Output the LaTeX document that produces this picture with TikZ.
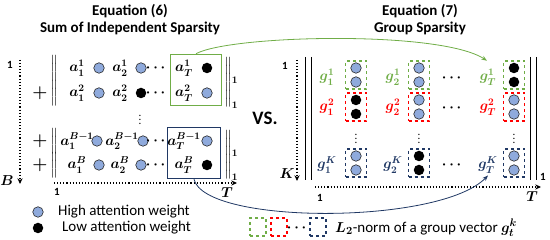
\documentclass[tikz,border=0pt]{standalone}
\usepackage{amsmath,amssymb}
\usepackage{fontspec}
\setmainfont{Carlito}
\usetikzlibrary{arrows.meta,positioning,calc}
\definecolor{hiB}{HTML}{8FAADC}
\definecolor{grG}{HTML}{70AD47}
\definecolor{grR}{HTML}{FF0000}
\definecolor{grN}{HTML}{203864}
\newcommand{\nrm}{\Big\|}

\begin{document}
\boldmath
\begin{tikzpicture}[x=1pt,y=-1pt,>={Stealth[length=2mm]},
    every node/.style={font=\fontsize{14}{16}\selectfont\boldmath,inner sep=0pt},
    ttl/.style={font=\bfseries\fontsize{15}{17}\selectfont,align=center},
    idx/.style={font=\bfseries\fontsize{11}{12}\selectfont},
    hi/.style={circle,draw=black!85,fill=hiB,line width=0.6pt,minimum size=10.5pt},
    lo/.style={circle,fill=black,minimum size=10.5pt},
    axis/.style={dotted,line width=1.1pt,-{Stealth[length=2mm,width=1.8mm]}},
    sel/.style={draw,line width=1.5pt,minimum width=51pt,minimum height=51pt},
    grp/.style={draw,dashed,line width=1.2pt,minimum width=21pt,minimum height=28pt},
    key/.style={draw,dashed,line width=1.2pt,minimum width=16pt,minimum height=18pt},
    txt/.style={font=\fontsize{15}{17}\selectfont\boldmath,anchor=west},
    pls/.style={font=\fontsize{17}{17}\selectfont\boldmath},
    vdt/.style={font=\fontsize{11}{11}\selectfont\boldmath}]
  \useasboundingbox (0,0) rectangle (550,240);
  % ---- LEFT: Equation (6) ----
  \node[ttl] (t6) at (130,20) {Equation (6)\\Sum of Independent Sparsity};
  \node[idx] (l1) at (10,65) {1};
  \node (lB) at (7,181) {$B$};
  \coordinate (vtop) at (20,60); \coordinate (vbot) at (20,184);
  \draw[axis] (vtop)--(vbot);
  % row 1
  \node (o1) at (54,68) {$\nrm$};
  \node (a11) at (77,68) {$a_1^1$}; \node[hi] (c11) at (99,68) {};
  \node (a21) at (120,68) {$a_2^1$}; \node[hi] (c21) at (141,68) {};
  \node (d1) at (157,68) {$\cdots$};
  \node (aT1) at (184,68) {$a_T^1$}; \node[lo] (cT1) at (207,68) {};
  \node[anchor=west] (e1) at (224,70) {$\nrm_1$};
  % row 2
  \node[pls] (p2) at (40,93) {$+$}; \node (o2) at (54,93) {$\nrm$};
  \node (a12) at (77,93) {$a_1^2$}; \node[hi] (c12) at (99,93) {};
  \node (a22) at (120,93) {$a_2^2$}; \node[lo] (c22) at (141,93) {};
  \node (d2) at (157,93) {$\cdots$};
  \node (aT2) at (184,93) {$a_T^2$}; \node[hi] (cT2) at (207,93) {};
  \node[anchor=west] (e2) at (224,95) {$\nrm_1$};
  \node[vdt] (vd) at (140,117) {$\vdots$};
  % row B-1
  \node[pls] (p4) at (40,141) {$+$}; \node (o4) at (54,141) {$\nrm$};
  \node (a14) at (77,141) {$a_1^{B-1}$}; \node[hi] (c14) at (97,141) {};
  \node (a24) at (122,141) {$a_2^{B-1}$}; \node[hi] (c24) at (143,141) {};
  \node (d4) at (157,141) {$\cdots$};
  \node (aT4) at (184,141) {$a_T^{B-1}$}; \node[hi] (cT4) at (207,141) {};
  \node[anchor=west] (e4) at (224,143) {$\nrm_1$};
  % row B
  \node[pls] (p5) at (40,165) {$+$}; \node (o5) at (54,165) {$\nrm$};
  \node (a15) at (77,165) {$a_1^B$}; \node[hi] (c15) at (99,165) {};
  \node (a25) at (120,165) {$a_2^B$}; \node[hi] (c25) at (141,165) {};
  \node (d5) at (157,165) {$\cdots$};
  \node (aT5) at (184,165) {$a_T^B$}; \node[lo] (cT5) at (207,165) {};
  \node[anchor=west] (e5) at (224,167) {$\nrm_1$};
  % selected columns
  \node[sel,grG] (gsel) at (196,80) {};
  \node[sel,grN,minimum width=53pt] (nsel) at (194,153) {};
  \coordinate (hl) at (54,183); \coordinate (hr) at (237,183);
  \draw[axis] (hl)--(hr);
  \node[idx] (h1) at (57,192) {1};
  \node (hT) at (227,193) {$T$};
  % legend
  \node[hi] (khi) at (38,212) {}; \node[txt] (khit) at (58,212) {High attention weight};
  \node[lo] (klo) at (38,228) {}; \node[txt] (klot) at (62,228) {Low attention weight};
  % ---- middle ----
  \node[font=\bfseries\fontsize{19}{21}\selectfont] (vs) at (265,118) {VS.};
  % ---- RIGHT: Equation (7) ----
  \node[ttl] (t7) at (420,20) {Equation (7)\\Group Sparsity};
  \node[idx] (r1) at (285,66) {1};
  \node (rK) at (287,174) {$K$};
  \coordinate (wtop) at (297,60); \coordinate (wbot) at (297,181);
  \draw[axis] (wtop)--(wbot);
  \coordinate (bl1) at (305,57); \coordinate (bl2) at (311,57);
  \coordinate (br1) at (530,57); \coordinate (br2) at (536,57);
  \draw[line width=1pt] (bl1)--++(0,123) (bl2)--++(0,123) (br1)--++(0,123) (br2)--++(0,123);
  \node[idx] (rs) at (543,177) {1};
  \coordinate (gl) at (315,187); \coordinate (gr) at (541,187);
  \draw[axis] (gl)--(gr);
  \node[idx] (g1) at (320,198) {1};
  \node (gT) at (532,197) {$T$};
  % group labels
  \node[grG] (g11) at (327,77) {$g_1^1$}; \node[grG] (g21) at (393,77) {$g_2^1$}; \node[grG] (gT1) at (488,77) {$g_T^1$};
  \node[grR] (g12) at (327,107) {$g_1^2$}; \node[grR] (g22) at (393,107) {$g_2^2$}; \node[grR] (gT2) at (488,107) {$g_T^2$};
  \node[grN] (g1K) at (327,165) {$g_1^K$}; \node[grN] (g2K) at (393,165) {$g_2^K$}; \node[grN] (gTK) at (488,165) {$g_T^K$};
  % group boxes
  \node[grp,grG] (b11) at (356,75) {}; \node[grp,grG] (b21) at (419,75) {}; \node[grp,grG] (bT1) at (514,75) {};
  \node[grp,grR] (b12) at (356,107) {}; \node[grp,grR] (b22) at (419,107) {}; \node[grp,grR] (bT2) at (514,107) {};
  \node[grp,grN] (b1K) at (356,163) {}; \node[grp,grN] (b2K) at (419,163) {}; \node[grp,grN] (bTK) at (514,163) {};
  % group entries
  \node[hi] at (356,68) {}; \node[hi] at (356,82) {}; \node[lo] at (356,100) {}; \node[lo] at (356,114) {};
  \node[hi] at (356,156) {}; \node[hi] at (356,170) {};
  \node[hi] at (419,68) {}; \node[hi] at (419,82) {}; \node[hi] at (419,100) {}; \node[hi] at (419,114) {};
  \node[lo] at (419,156) {}; \node[lo] at (419,170) {};
  \node[lo] at (514,68) {}; \node[lo] at (514,82) {}; \node[hi] at (514,100) {}; \node[hi] at (514,114) {};
  \node[hi] at (514,156) {}; \node[hi] at (514,170) {};
  \node[vdt] (vd1) at (356,136) {$\vdots$}; \node[vdt] (vd2) at (419,136) {$\vdots$}; \node[vdt] (vdT) at (514,136) {$\vdots$};
  \node (dd1) at (453,78) {$\cdots$}; \node (dd2) at (453,108) {$\cdots$}; \node (ddK) at (453,165) {$\cdots$};
  % legend
  \node[key,grG] (kg) at (258,227) {}; \node[key,grR] (kr) at (279,227) {};
  \node (kd) at (298,228) {$\cdots$}; \node[key,grN] (kn) at (318,227) {};
  \node[txt] (kt) at (335,228) {$L_2$-norm of a group vector $g_t^k$};
  % ---- connectors ----
  \draw[grG,thick,->] (gsel.north) .. controls (230,35) and (440,30) .. ([shift={(-1,-8)}]gT1.north);
  \draw[grN,thick,->] (nsel.south) .. controls (205,225) and (440,225) .. ([shift={(0,2)}]gTK.south);
\end{tikzpicture}
\end{document}
